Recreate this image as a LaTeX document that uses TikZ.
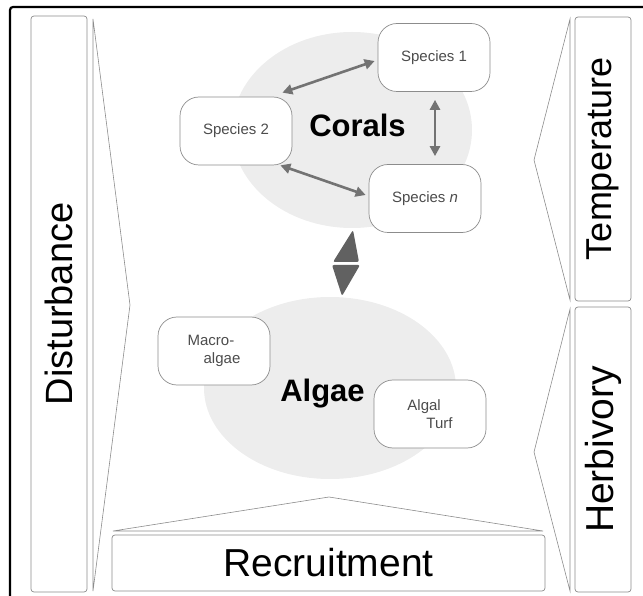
\documentclass[tikz,border=0pt]{standalone}
\usepackage{fontspec}
\setmainfont{Liberation Sans}
\usetikzlibrary{arrows.meta,shapes.geometric}
\begin{document}
\begin{tikzpicture}[>={Triangle[length=10pt,width=10pt]},x=1pt,y=-1pt,
    species/.style={draw=black!45,line width=0.7pt,rounded corners=19pt,fill=white,minimum width=112pt,minimum height=68pt,align=left,text=black!70,font=\fontsize{15}{18.5}\selectfont},
    factor/.style={draw=black!45,line width=0.7pt,rounded corners=3pt,minimum height=56pt,font=\fontsize{#1}{40}\selectfont},
    wedge/.style={draw=black!45,line width=0.6pt},
    blob/.style={ellipse,fill=black!7,inner sep=0pt},
    group/.style={font=\fontsize{31}{34}\bfseries},
    link/.style={<->,draw=black!55,line width=2.6pt}]
    \useasboundingbox (0,0) rectangle (643,596);
    \begin{scope}
        \clip (0,0) rectangle (643,596);
        \draw[line width=2.2pt,rounded corners=3pt] (10,7) rectangle (660,615);
    \end{scope}
    % background groups
    \node[blob,minimum width=240pt,minimum height=196pt] (coralbg) at (352,130) {};
    \node[blob,minimum width=252pt,minimum height=182pt] (algaebg) at (330,388) {};
    % outside factors
    \node[factor=38,rotate=90,minimum width=576pt] (dist) at (59,304) {Disturbance};
    \node[factor=36,rotate=90,minimum width=284pt] (temp) at (603,159) {Temperature};
    \node[factor=39,rotate=90,minimum width=285pt] (herb) at (603,449.5) {Herbivory};
    \node[factor=39,minimum width=433pt] (recr) at (328.5,563) {Recruitment};
    \draw[wedge] (93,19)--(130,305)--(93,591)--cycle;
    \draw[wedge] (570,19)--(534,160)--(570,300)--cycle;
    \draw[wedge] (570,309)--(534,452)--(570,591)--cycle;
    \draw[wedge] (113,531)--(329,497)--(543,531)--cycle;
    % corals
    \node[species] (s1) at (434,57.5) {Species 1};
    \node[species] (s2) at (236,131) {Species 2};
    \node[species] (sn) at (425,198.5) {Species \textit{n}};
    \node[group,anchor=base] (corals) at (357.5,137) {Corals};
    \draw[link] ([xshift=-10pt,yshift=4pt]s2.north east) -- ([xshift=-3pt,yshift=-3.5pt]s1.west);
    \draw[link] ([xshift=1pt,yshift=-8pt]s1.south) -- ([xshift=10pt,yshift=8pt]sn.north);
    \draw[link] ([xshift=-12pt]s2.south east) -- ([xshift=-3pt,yshift=3.5pt]sn.west);
    % algae
    \node[species] (macro) at (214,351) {Macro-\\\hspace*{16pt}algae};
    \node[species] (turf) at (430,414) {Algal\\\hspace*{19pt}Turf};
    \node[group,anchor=base] (algae) at (322.5,401) {Algae};
    % corals <-> algae
    \fill[black!62,rounded corners=2pt] (353,230)--(359,262)--(333,262)--cycle;
    \fill[black!62,rounded corners=2pt] (332,265)--(360,265)--(342,296)--cycle;
\end{tikzpicture}
\end{document}
